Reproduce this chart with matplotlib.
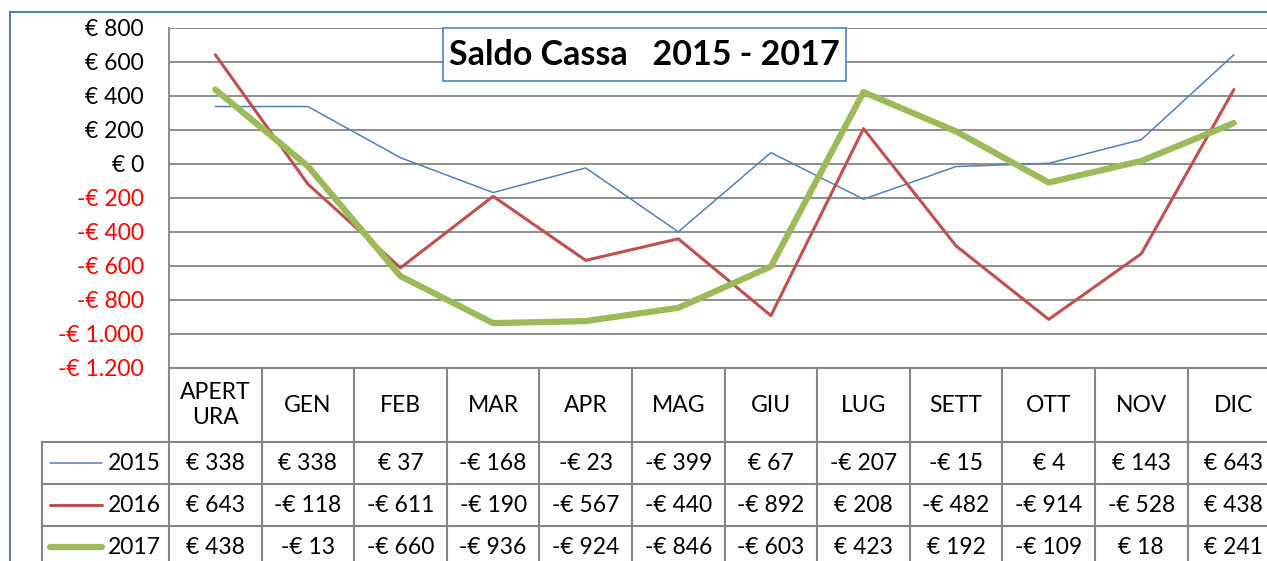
import matplotlib
matplotlib.use("Agg")
import matplotlib.pyplot as plt
from matplotlib.transforms import blended_transform_factory
from matplotlib.patches import Rectangle
from matplotlib.lines import Line2D

categories = ["APERT\nURA", "GEN", "FEB", "MAR", "APR", "MAG", "GIU", "LUG", "SETT", "OTT", "NOV", "DIC"]
s2015 = [338, 338, 37, -168, -23, -399, 67, -207, -15, 4, 143, 643]
s2016 = [643, -118, -611, -190, -567, -440, -892, 208, -482, -914, -528, 438]
s2017 = [438, -13, -660, -936, -924, -846, -603, 423, 192, -109, 18, 241]
series_names = ["2015", "2016", "2017"]
yticks = [-1200, -1000, -800, -600, -400, -200, 0, 200, 400, 600, 800]

colors = ["#4F81BD", "#C0504D", "#9BBB59"]
widths = [1.1, 2.2, 4.5]
FONT = "Lato"
FS = 16.5

W, H = 1267, 561
fig = plt.figure(figsize=(W / 100, H / 100), dpi=100)

def fx(x):
    return x / W

def fy(y):
    return 1 - y / H

colw = 92.6
left_px, top_px, bot_px = 169, 28, 368
ax = fig.add_axes([fx(left_px), fy(bot_px), 1 - fx(left_px), fy(top_px) - fy(bot_px)])
ax.set_xlim(-0.5, -0.5 + (W - left_px) / colw)
ax.set_ylim(-1200, 800)

def eur(v):
    s = f"{abs(v):,}".replace(",", ".")
    return ("-€ " if v < 0 else "€ ") + s

ax.set_yticks(yticks)
ax.set_yticklabels([eur(v) for v in yticks], fontsize=FS, family=FONT)
for lab, v in zip(ax.get_yticklabels(), yticks):
    lab.set_color("#FF0000" if v < 0 else "black")
ax.tick_params(axis="y", length=0, pad=18)
ax.set_xticks([])
ax.grid(axis="y", color="#858585", linewidth=1.3)
for sp in ["top", "right", "bottom"]:
    ax.spines[sp].set_visible(False)
ax.spines["left"].set_color("#858585")
ax.spines["left"].set_linewidth(1.3)

xs = list(range(len(categories)))
for vals, c, lw in zip([s2015, s2016, s2017], colors, widths):
    ax.plot(xs, vals, color=c, linewidth=lw, solid_capstyle="round", solid_joinstyle="round", zorder=3)

# title box
fig.patches.append(Rectangle((fx(443), fy(81)), fx(846) - fx(443), fy(28) - fy(81),
                             transform=fig.transFigure, facecolor="white",
                             edgecolor="#4F81BD", linewidth=1.2, zorder=5))
fig.text(fx(644), fy(55), "Saldo Cassa   2015 - 2017", ha="center", va="center",
         fontsize=24.5, fontweight="bold", family=FONT, zorder=6)

# outer chart border
fig.add_artist(Line2D([fx(10), fx(10)], [fy(12), 0], transform=fig.transFigure, color="#4F81BD", linewidth=1.5))
fig.add_artist(Line2D([fx(10), 1], [fy(12), fy(12)], transform=fig.transFigure, color="#4F81BD", linewidth=1.5))

# data table
tr = blended_transform_factory(ax.transData, fig.transFigure)
gc = "#858585"
glw = 1.5
row_edges = [368, 442, 484, 526, 568]
n = len(categories)
xr = ax.get_xlim()[1]
ax.add_line(Line2D([-0.5, xr], [fy(368), fy(368)], transform=tr, color=gc, linewidth=glw, clip_on=False))
for ye in row_edges[1:]:
    fig.add_artist(Line2D([fx(42), 1], [fy(ye), fy(ye)], transform=fig.transFigure, color=gc, linewidth=glw))
for i in range(n + 1):
    ax.add_line(Line2D([i - 0.5, i - 0.5], [fy(368), fy(568)], transform=tr, color=gc, linewidth=glw, clip_on=False))
fig.add_artist(Line2D([fx(42), fx(42)], [fy(442), fy(568)], transform=fig.transFigure, color=gc, linewidth=glw))

for i, cat in enumerate(categories):
    ax.text(i, fy(405), cat, transform=tr, ha="center", va="center", fontsize=FS,
            family=FONT, linespacing=1.2, clip_on=False)

for r, (name, vals, c, lw) in enumerate(zip(series_names, [s2015, s2016, s2017], colors, widths)):
    yc = fy((row_edges[r + 1] + row_edges[r + 2]) / 2)
    fig.add_artist(Line2D([fx(50), fx(102)], [yc, yc], transform=fig.transFigure, color=c,
                          linewidth=lw, solid_capstyle="round"))
    fig.text(fx(161), yc, name, ha="right", va="center", fontsize=FS, family=FONT)
    for i, v in enumerate(vals):
        ax.text(i, yc, eur(v), transform=tr, ha="center", va="center", fontsize=FS,
                family=FONT, clip_on=False)

fig.savefig("out.png", dpi=100)
